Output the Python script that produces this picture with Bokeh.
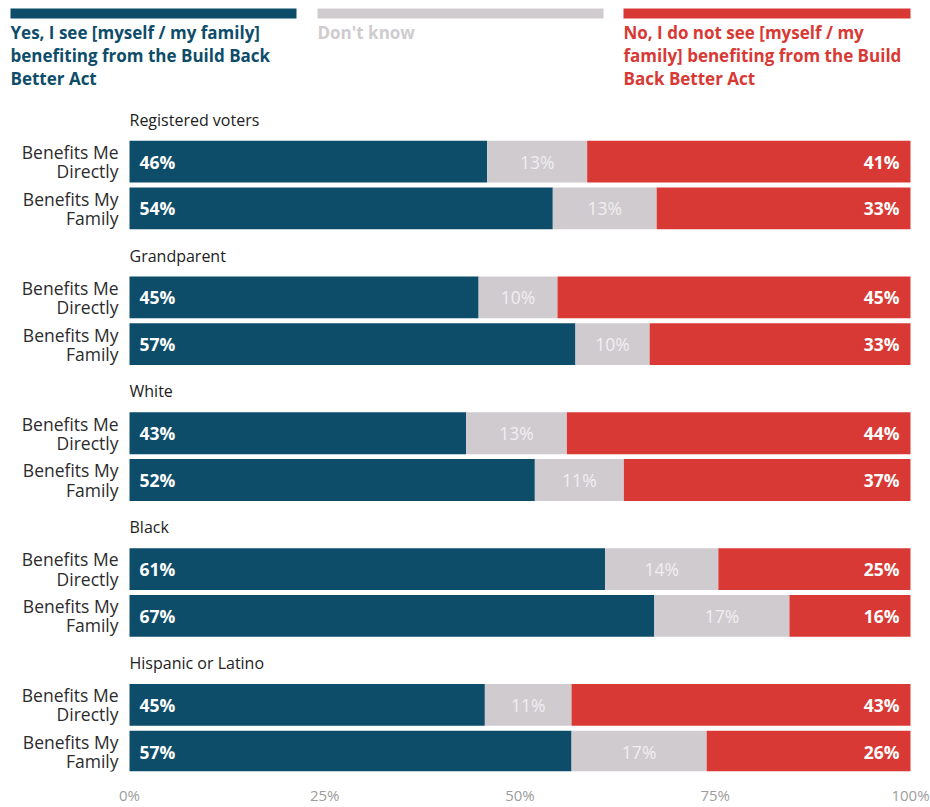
from bokeh.plotting import figure
from bokeh.models import Range1d, FixedTicker, ColumnDataSource
from bokeh.core.properties import value
from bokeh.embed import file_html
from bokeh.resources import INLINE

# ---------------- data ----------------
groups = ["Registered voters", "Grandparent", "White", "Black", "Hispanic or Latino"]
row_labels = ["Benefits Me\nDirectly", "Benefits My\nFamily"]
yes_vals = [45.8, 54.2, 44.7, 57.1, 43.1, 51.9, 60.9, 67.2, 45.5, 56.6]
dk_vals = [12.8, 13.3, 10.1, 9.5, 12.9, 11.4, 14.5, 17.3, 11.1, 17.3]
no_vals = [41.4, 32.5, 45.2, 33.4, 44.0, 36.7, 24.6, 15.5, 43.4, 26.1]
yes_labels = ["46%", "54%", "45%", "57%", "43%", "52%", "61%", "67%", "45%", "57%"]
dk_labels = ["13%", "13%", "10%", "10%", "13%", "11%", "14%", "17%", "11%", "17%"]
no_labels = ["41%", "33%", "45%", "33%", "44%", "37%", "25%", "16%", "43%", "26%"]
tick_values = [0, 25, 50, 75, 100]
tick_labels = ["0%", "25%", "50%", "75%", "100%"]
legend_labels = [
    "Yes, I see [myself / my family]\nbenefiting from the Build Back\nBetter Act",
    "Don't know",
    "No, I do not see [myself / my\nfamily] benefiting from the Build\nBack Better Act",
]

# ---------------- style ----------------
BLUE = "#0e4d6a"
GRAY = "#cfcbcf"
RED = "#d93934"
FONT_NAME = "Open Sans"
FONT = value(FONT_NAME)

W, H = 930, 807
BOTTOM = 32
PX0, PX100 = 129, 910           # picture x of 0% and 100%


def dx(px):
    """picture x -> data x (percent)"""
    return (px - PX0) * 100.0 / (PX100 - PX0)


x_start, x_end = dx(0), dx(W)
y_top, y_bot = 0, H - BOTTOM

p = figure(width=W, height=H, output_backend="svg", toolbar_location=None,
           x_range=Range1d(x_start, x_end), y_range=Range1d(y_bot, y_top),
           min_border_left=0, min_border_right=0, min_border_top=0,
           min_border_bottom=BOTTOM)
p.outline_line_color = None
p.xgrid.visible = False
p.ygrid.visible = False
p.yaxis.visible = False
p.background_fill_color = "white"
p.border_fill_color = "white"

ax = p.xaxis[0]
ax.ticker = FixedTicker(ticks=tick_values)
ax.major_label_overrides = {v: l for v, l in zip(tick_values, tick_labels)}
ax.axis_line_color = None
ax.major_tick_line_color = None
ax.minor_tick_line_color = None
ax.major_tick_out = 0
ax.major_tick_in = 0
ax.major_label_standoff = 13
ax.major_label_text_font = FONT_NAME
ax.major_label_text_font_size = "15px"
ax.major_label_text_color = "#9d9d9d"

# ---------------- layout of rows ----------------
GROUP_STEP = 136.5
HEADER_Y0 = 120
BAR_Y0 = 162
BAR_GAP = 47
BAR_H = 42

ys, rl = [], []
for i in range(len(yes_vals)):
    g, r = divmod(i, 2)
    ys.append(BAR_Y0 + g * GROUP_STEP + r * BAR_GAP)
    rl.append(row_labels[r])

yes_end = yes_vals
dk_end = [a + b for a, b in zip(yes_vals, dk_vals)]
no_end = [a + b + c for a, b, c in zip(yes_vals, dk_vals, no_vals)]
src = ColumnDataSource(dict(
    y=ys, zero=[0] * len(ys), yes_end=yes_end, dk_end=dk_end, no_end=no_end,
    dk_mid=[(a + b) / 2 for a, b in zip(yes_end, dk_end)],
    yes_lab=yes_labels, dk_lab=dk_labels, no_lab=no_labels, row=rl,
    row_x=[dx(118)] * len(ys),
))

p.hbar(y="y", left="zero", right="yes_end", height=BAR_H, source=src,
       fill_color=BLUE, line_color=None)
p.hbar(y="y", left="yes_end", right="dk_end", height=BAR_H, source=src,
       fill_color=GRAY, line_color=None)
p.hbar(y="y", left="dk_end", right="no_end", height=BAR_H, source=src,
       fill_color=RED, line_color=None)

p.text(x="zero", y="y", text="yes_lab", source=src, x_offset=10,
       text_align="left", text_baseline="middle", text_color="white",
       text_font=FONT, text_font_style="bold", text_font_size="17.5px")
p.text(x="dk_mid", y="y", text="dk_lab", source=src,
       text_align="center", text_baseline="middle", text_color="#f1eff1",
       text_font=FONT, text_font_size="17.5px")
p.text(x="no_end", y="y", text="no_lab", source=src, x_offset=-11,
       text_align="right", text_baseline="middle", text_color="white",
       text_font=FONT, text_font_style="bold", text_font_size="17.5px")

p.text(x="row_x", y="y", text="row", source=src,
       text_align="right", text_baseline="middle", text_color="#2b2b2b",
       text_font=FONT, text_font_size="17.5px", text_line_height=0.8)

hsrc = ColumnDataSource(dict(
    x=[0] * len(groups),
    y=[HEADER_Y0 + g * GROUP_STEP for g in range(len(groups))],
    t=groups))
p.text(x="x", y="y", text="t", source=hsrc, text_align="left",
       text_baseline="middle", text_color="#222222", text_font=FONT,
       text_font_size="16px")

# ---------------- legend ----------------
leg_left = [dx(10), dx(317), dx(623)]
leg_right = [dx(296), dx(603), dx(910)]
lsrc = ColumnDataSource(dict(left=leg_left, right=leg_right,
                             top=[8] * 3, bottom=[18] * 3,
                             color=[BLUE, GRAY, RED], t=legend_labels,
                             ty=[21] * 3))
p.quad(left="left", right="right", top="top", bottom="bottom", source=lsrc,
       fill_color="color", line_color=None)
p.text(x="left", y="ty", text="t", source=lsrc, text_color="color",
       text_align="left", text_baseline="top", text_font=FONT,
       text_font_style="bold", text_font_size="17px", text_line_height=1.0)

open("out.html", "w").write(file_html(p, INLINE))
